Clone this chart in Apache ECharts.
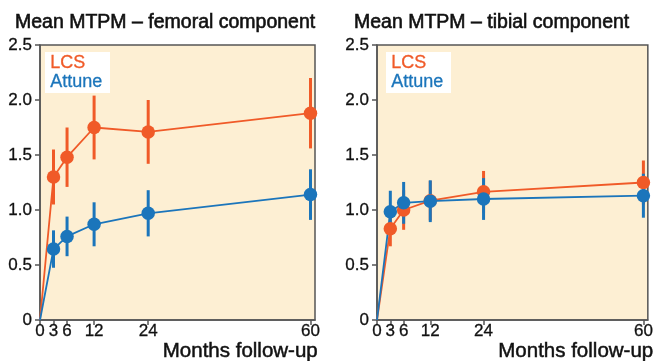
<!DOCTYPE html>
<html><head><meta charset="utf-8">
<script src="https://cdn.jsdelivr.net/npm/echarts@6/dist/echarts.min.js"></script>
<style>html,body{margin:0;padding:0;background:#fff}#c{width:656px;height:361px}</style>
</head><body><div id="c"></div>
<script>
var months = [0, 3, 6, 12, 24, 60];
var xTicks = [0, 3, 6, 12, 24, 60];
var yTicks = [0, 0.5, 1.0, 1.5, 2.0, 2.5];
var titles = ['Mean MTPM \u2013 femoral component', 'Mean MTPM \u2013 tibial component'];
var seriesNames = ['LCS', 'Attune'];
var xAxisTitle = 'Months follow-up';

// femoral
var femLcsMean = [0, 1.30, 1.48, 1.75, 1.71, 1.88];
var femLcsErr = [0, 0.25, 0.27, 0.29, 0.29, 0.32];
var femAttMean = [0, 0.645, 0.76, 0.87, 0.97, 1.14];
var femAttErr = [0, 0.17, 0.18, 0.20, 0.21, 0.23];
// tibial
var tibLcsMean = [0, 0.83, 1.00, 1.085, 1.165, 1.25];
var tibLcsErr = [0, 0.16, 0.18, 0.18, 0.19, 0.20];
var tibAttMean = [0, 0.985, 1.065, 1.08, 1.10, 1.13];
var tibAttErr = [0, 0.19, 0.19, 0.19, 0.19, 0.20];

var ORANGE = '#F05A28', BLUE = '#1B75BB', AXIS = '#555555', BG = '#FDEFD3';
var FONT = 'Liberation Sans, Arial, Helvetica, sans-serif';

function lineData(mean) {
  return months.map(function (m, i) {
    return i === 0 ? { value: [m, mean[i]], symbolSize: 0 } : { value: [m, mean[i]] };
  });
}
function errData(mean, err) {
  var out = [];
  for (var i = 1; i < months.length; i++) out.push([months[i], mean[i] - err[i], mean[i] + err[i]]);
  return out;
}
function errSeries(idx, mean, err, color) {
  return {
    type: 'custom', xAxisIndex: idx, yAxisIndex: idx, data: errData(mean, err),
    encode: { x: 0, y: [1, 2] }, silent: true,
    renderItem: function (params, api) {
      var lo = api.coord([api.value(0), api.value(1)]);
      var hi = api.coord([api.value(0), api.value(2)]);
      return { type: 'line', shape: { x1: lo[0], y1: lo[1], x2: hi[0], y2: hi[1] },
        style: { stroke: color, lineWidth: 3 } };
    }
  };
}
function lineSeries(idx, name, mean, color) {
  return {
    type: 'line', name: name, xAxisIndex: idx, yAxisIndex: idx, data: lineData(mean),
    symbol: 'circle', symbolSize: 13.5, showAllSymbol: true,
    lineStyle: { color: color, width: 1.8 }, itemStyle: { color: color }, animation: false
  };
}

var grids = [
  { left: 40, top: 45, width: 275, height: 275 },
  { left: 377, top: 45, width: 275, height: 275 }
];

var xAxes = grids.map(function (g, i) {
  return {
    type: 'value', gridIndex: i, min: 0, max: 61,
    axisLine: { show: true, onZero: false, lineStyle: { color: AXIS, width: 1.5 } },
    axisTick: { show: true, length: 5, customValues: xTicks, lineStyle: { color: AXIS, width: 1.5 } },
    axisLabel: { customValues: xTicks, color: '#111', fontSize: 17, fontFamily: FONT, margin: 3,
      textBorderColor: '#111', textBorderWidth: 0.3 },
    splitLine: { show: false }
  };
});
var yAxes = grids.map(function (g, i) {
  return {
    type: 'value', gridIndex: i, min: 0, max: 2.5, interval: 0.5,
    axisLine: { show: true, lineStyle: { color: AXIS, width: 1.5 } },
    axisTick: { show: true, length: 5, lineStyle: { color: AXIS, width: 1.5 } },
    axisLabel: { color: '#111', fontSize: 17, fontFamily: FONT, margin: 8,
      textBorderColor: '#111', textBorderWidth: 0.3,
      formatter: function (v) { return v === 0 ? '0' : v.toFixed(1); } },
    splitLine: { show: false }
  };
});

var graphics = [];
[[45, 52], [386, 52]].forEach(function (p) {
  graphics.push({ type: 'rect', left: p[0], top: p[1], shape: { width: 65, height: 41 },
    style: { fill: '#ffffff' }, z: 50 });
  graphics.push({ type: 'text', left: p[0] + 5, top: p[1] + 2, z: 51,
    style: { text: seriesNames[0], fill: ORANGE, font: '18px ' + FONT, stroke: ORANGE, lineWidth: 0.3 } });
  graphics.push({ type: 'text', left: p[0] + 5, top: p[1] + 21, z: 51,
    style: { text: seriesNames[1], fill: BLUE, font: '18px ' + FONT, stroke: BLUE, lineWidth: 0.3 } });
});
graphics.push({ type: 'text', right: 656 - 318, top: 341, z: 51,
  style: { text: xAxisTitle, fill: '#111', font: '20.5px ' + FONT, stroke: '#111', lineWidth: 0.5 } });
graphics.push({ type: 'text', left: 498, top: 341, z: 51,
  style: { text: xAxisTitle, fill: '#111', font: '20.5px ' + FONT, stroke: '#111', lineWidth: 0.5 } });

var chart = echarts.init(document.getElementById('c'), null, { renderer: 'canvas' });
chart.setOption({
  animation: false,
  backgroundColor: '#ffffff',
  title: [
    { text: titles[0], left: 10, top: 8, textStyle: { fontSize: 19.5, fontWeight: 'normal', color: '#111', fontFamily: FONT,
      textBorderColor: '#111', textBorderWidth: 0.6 } },
    { text: titles[1], left: 349, top: 8, textStyle: { fontSize: 19.5, fontWeight: 'normal', color: '#111', fontFamily: FONT,
      textBorderColor: '#111', textBorderWidth: 0.6 } }
  ],
  grid: grids.map(function (g) {
    return Object.assign({ show: true, backgroundColor: BG, borderColor: AXIS, borderWidth: 1.5 }, g);
  }),
  xAxis: xAxes,
  yAxis: yAxes,
  graphic: graphics,
  series: [
    errSeries(0, femLcsMean, femLcsErr, ORANGE),
    lineSeries(0, 'LCS', femLcsMean, ORANGE),
    errSeries(0, femAttMean, femAttErr, BLUE),
    lineSeries(0, 'Attune', femAttMean, BLUE),
    errSeries(1, tibLcsMean, tibLcsErr, ORANGE),
    lineSeries(1, 'LCS', tibLcsMean, ORANGE),
    errSeries(1, tibAttMean, tibAttErr, BLUE),
    lineSeries(1, 'Attune', tibAttMean, BLUE)
  ]
});
</script></body></html>
